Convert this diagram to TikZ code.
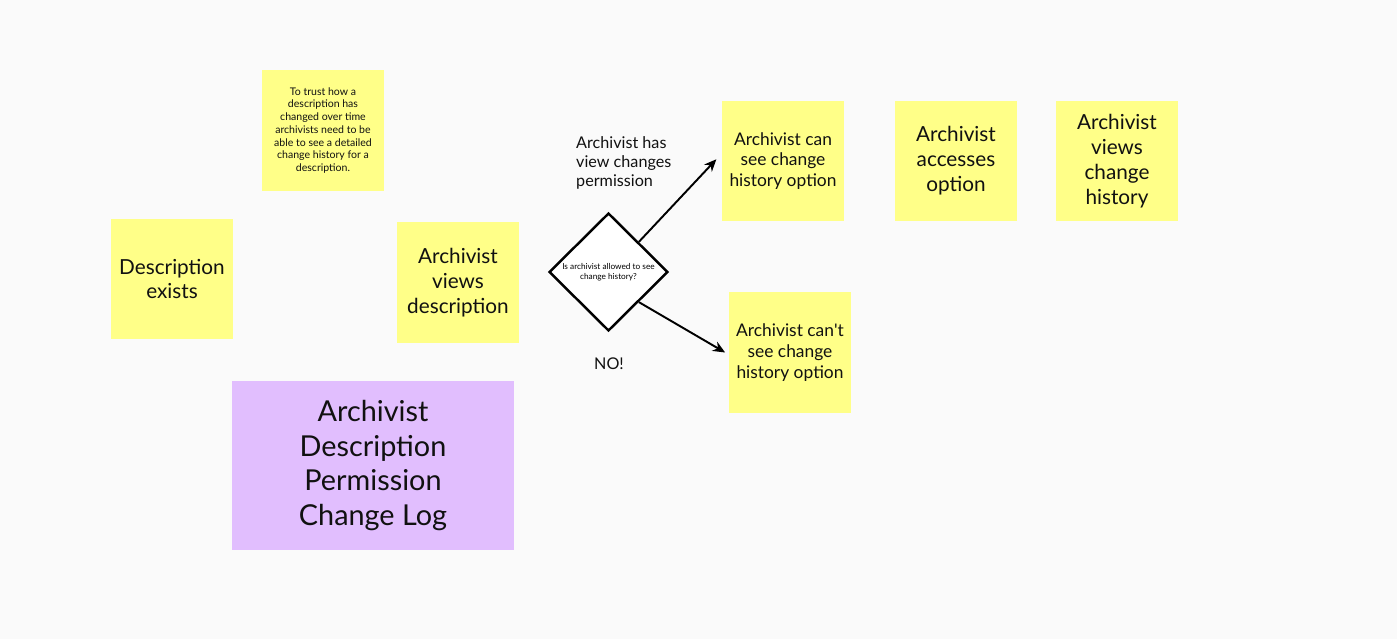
\documentclass[tikz,border=0pt]{standalone}
\usepackage{fontspec}
\setmainfont{Lato}
\usetikzlibrary{shapes.geometric,arrows.meta,calc}
\definecolor{sticky}{HTML}{FFFF88}
\definecolor{lilac}{HTML}{E1BEFE}
\definecolor{board}{HTML}{FAFAFA}
\definecolor{ink}{HTML}{111111}

\begin{document}
\begin{tikzpicture}[x=0.02cm,y=-0.02cm,
    stickynote/.style={fill=sticky, text=ink, minimum width=2.44cm, minimum height=2.42cm,
        align=center, inner sep=0pt, font=\fontsize{11.8}{14.2}\selectfont},
    smallnote/.style={stickynote, font=\fontsize{9.9}{11.9}\selectfont},
    plain/.style={text=ink, font=\fontsize{9.2}{11}\selectfont},
    flow/.style={line width=1.1pt, -{Stealth[length=7pt,width=6pt]}}]
    \fill[board] (0,0) rectangle (1397,639);

    % notes on the left
    \node[stickynote, font=\fontsize{6}{7.26}\selectfont] (trust) at (323,130.5)
        {To trust how a\\description has\\changed over time\\archivists need to be\\able to see a detailed\\change history for a\\description.};
    \node[stickynote] (exists) at (172,279) {Description\\exists};
    \node[stickynote] (views) at (458,282.5) {Archivist\\views\\description};
    \node[fill=lilac, text=ink, minimum width=5.64cm, minimum height=3.38cm, align=center,
        inner sep=0pt, font=\fontsize{16.4}{19.7}\selectfont] (log) at (373,465.5)
        {Archivist\\Description\\Permission\\Change Log};

    % decision
    \node[diamond, draw, line width=1.4pt, fill=white, minimum width=2.38cm, minimum height=2.36cm,
        inner sep=0pt, align=center, font=\fontsize{4.7}{5.67}\selectfont] (check) at (608.5,272)
        {Is archivist allowed to see\\change history?};
    \node[plain, anchor=west, align=left] (yes) at (570,163) {Archivist has\\view changes\\permission};
    \node[plain] (no) at (609,364) {NO!};

    % outcomes
    \node[smallnote] (cansee) at (783,161) {Archivist can\\see change\\history option};
    \node[smallnote] (cantsee) at (790,352.5) {Archivist can\textquotesingle t\\see change\\history option};
    \node[stickynote] (access) at (956,161) {Archivist\\accesses\\option};
    \node[stickynote] (history) at (1117,161) {Archivist\\views\\change\\history};

    \draw[flow] ($(check.north)!0.5!(check.east)$) -- ([xshift=-3pt,yshift=1pt]cansee.west);
    \draw[flow] ($(check.south)!0.5!(check.east)$) -- ([xshift=-2pt]cantsee.west);
\end{tikzpicture}
\end{document}
